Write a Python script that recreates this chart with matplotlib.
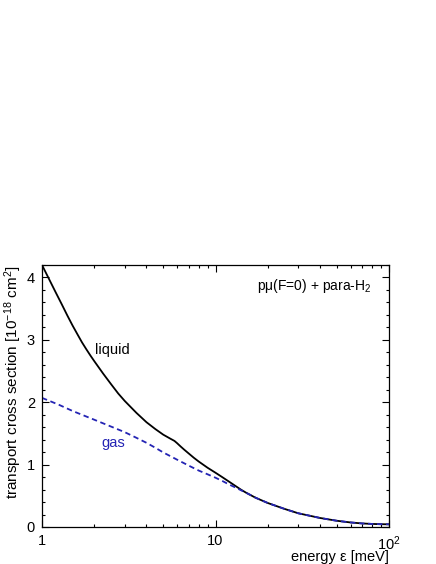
import matplotlib
matplotlib.use("Agg")
import matplotlib.pyplot as plt
from matplotlib.ticker import FixedLocator, FixedFormatter, MultipleLocator, LogLocator, NullFormatter

plt.rcParams['font.family'] = ['Liberation Sans', 'DejaVu Sans']
plt.rcParams['mathtext.fontset'] = 'custom'
plt.rcParams['mathtext.rm'] = 'Liberation Sans'
plt.rcParams['mathtext.it'] = 'Liberation Sans:italic'

energy_liquid = [1, 1.1, 1.2, 1.3, 1.4, 1.5, 1.6, 1.7, 1.8, 1.9, 2, 2.25, 2.5, 2.75, 3, 3.5,
                 4, 4.5, 5, 5.5, 5.8, 6, 6.3, 6.6, 7, 7.5, 8, 9, 10, 11, 12, 13, 14, 15, 17,
                 20, 25, 30, 35, 40, 50, 60, 70, 80, 90, 100]
liquid = [4.20, 3.97, 3.76, 3.57, 3.39, 3.23, 3.09, 2.96, 2.85, 2.75, 2.66, 2.46, 2.29, 2.14,
          2.02, 1.83, 1.68, 1.57, 1.48, 1.415, 1.38, 1.345, 1.29, 1.24, 1.18, 1.11, 1.05,
          0.95, 0.87, 0.795, 0.725, 0.66, 0.60, 0.55, 0.47, 0.385, 0.29, 0.22, 0.18, 0.145,
          0.10, 0.073, 0.057, 0.049, 0.045, 0.043]
energy_gas = [1, 1.25, 1.5, 1.75, 2, 2.5, 3, 3.5, 4, 4.5, 5, 6, 7, 8, 9, 10, 11, 12, 13, 14,
              15, 17, 20, 25, 30, 35, 40, 50, 60, 70, 80, 90, 100]
gas = [2.07, 1.96, 1.86, 1.785, 1.72, 1.61, 1.52, 1.43, 1.35, 1.27, 1.195, 1.08, 0.985,
       0.905, 0.845, 0.79, 0.735, 0.68, 0.635, 0.59, 0.55, 0.47, 0.385, 0.29, 0.22, 0.18,
       0.145, 0.10, 0.073, 0.057, 0.049, 0.045, 0.043]

x_major = [1, 10, 100]
x_major_labels = ['1', '10', '$10^{2}$']

fig = plt.figure(figsize=(4.36, 5.64), dpi=100)
ax = fig.add_axes([42/436, 37/564, 347/436, 262/564])

ax.plot(energy_liquid, liquid, color='black', lw=1.3)
ax.plot(energy_gas, gas, color='#2424b4', lw=1.3, dashes=(3, 2))

ax.set_xscale('log')
ax.set_xlim(1, 100)
ax.set_ylim(0, 4.2)

ax.xaxis.set_major_locator(FixedLocator(x_major))
ax.xaxis.set_major_formatter(FixedFormatter(x_major_labels))
ax.xaxis.set_minor_locator(LogLocator(base=10, subs=range(2, 10)))
ax.xaxis.set_minor_formatter(NullFormatter())
ax.yaxis.set_major_locator(MultipleLocator(1))
ax.yaxis.set_minor_locator(MultipleLocator(0.2))

ax.tick_params(which='both', direction='in', top=True, right=True, labelsize=10.5, pad=5)
ax.tick_params(which='major', length=5, width=0.8)
ax.tick_params(which='minor', length=2.5, width=0.8)
for s in ax.spines.values():
    s.set_linewidth(0.9)

ax.set_xlabel('energy ε [meV]', loc='right', fontsize=10.5, labelpad=-2)
ax.set_ylabel('transport cross section [10$^{-18}$ cm$^{2}$]', loc='top', fontsize=11, labelpad=2)

ax.text(0.95, 0.92, 'pμ(F=0) + para-H$_{2}$', transform=ax.transAxes, ha='right', va='center', fontsize=10)
ax.text(0.153, 0.675, 'liquid', transform=ax.transAxes, ha='left', va='center', fontsize=10.5)
ax.text(0.17, 0.32, 'gas', transform=ax.transAxes, ha='left', va='center', fontsize=10.5, color='#2424b4')

fig.savefig('out.png', dpi=100)
